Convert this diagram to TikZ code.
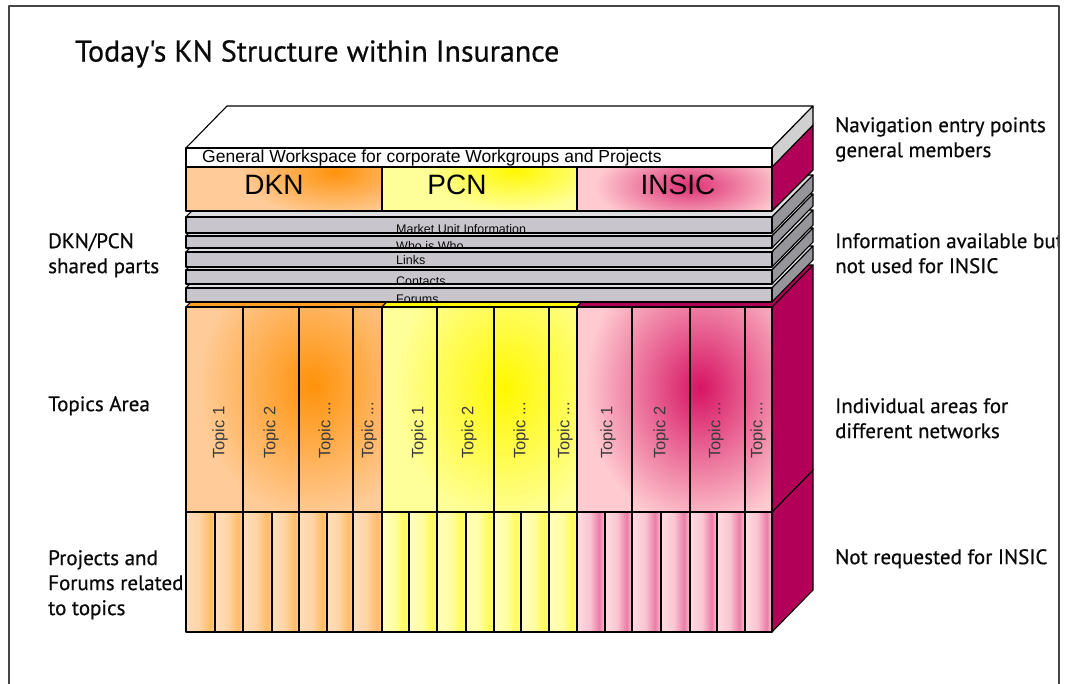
\documentclass[tikz,border=0pt]{standalone}
\usepackage{fontspec}
\setmainfont{PT Sans}[FakeBold=0.5]
\newfontfamily\notefont{PT Sans}[AutoFakeBold=0.6]
\newfontfamily\arialfont{Liberation Sans}
\usetikzlibrary{fadings}

\definecolor{dknlight}{RGB}{255,204,153}
\definecolor{dknsat}{RGB}{255,146,10}
\definecolor{pcnlight}{RGB}{255,255,153}
\definecolor{pcnsat}{RGB}{255,248,0}
\definecolor{insiclight}{RGB}{255,202,208}
\definecolor{insicsat}{RGB}{215,20,100}
\definecolor{wine}{RGB}{178,0,88}
\definecolor{barfront}{RGB}{200,198,204}
\definecolor{barside}{RGB}{150,150,154}
\definecolor{bartop}{RGB}{222,222,225}
\definecolor{slabside}{RGB}{208,208,208}
\definecolor{framegrey}{RGB}{70,70,70}
\definecolor{labelgrey}{RGB}{10,10,10}

% narrow project cells: light on the left, a saturated band near the right edge
\pgfdeclarehorizontalshading{dknstrip}{100bp}{%
  color(0bp)=(dknlight); color(25bp)=(dknlight); color(48bp)=(dknlight!75!dknsat);
  color(67bp)=(dknsat!90!dknlight); color(75bp)=(dknlight!65!dknsat); color(100bp)=(dknlight!65!dknsat)}
\pgfdeclarehorizontalshading{pcnstrip}{100bp}{%
  color(0bp)=(pcnlight); color(25bp)=(pcnlight); color(48bp)=(pcnlight!75!pcnsat);
  color(67bp)=(pcnsat); color(75bp)=(pcnlight!60!pcnsat); color(100bp)=(pcnlight!60!pcnsat)}
\pgfdeclarehorizontalshading{insicstrip}{100bp}{%
  color(0bp)=(insiclight); color(25bp)=(insiclight); color(48bp)=(insiclight!80!insicsat);
  color(65bp)=(insicsat!80!insiclight); color(75bp)=(insiclight!80!insicsat); color(100bp)=(insiclight!80!insicsat)}

% lighter towards the top and bottom of the project cells
\tikzfading[name=edgefade, top color=transparent!65, middle color=transparent!100,
            bottom color=transparent!65]

\tikzset{
  outline/.style={draw=black, line width=1.1pt},
  wineface/.style={outline, fill=wine},
  barbody/.style={outline, fill=barfront},
  bartopface/.style={outline, fill=bartop},
  barsideface/.style={outline, fill=barside},
  sidelabel/.style={anchor=north west, align=left, inner sep=0pt, text=labelgrey,
    font=\notefont\bfseries\fontsize{21}{25}\selectfont},
  titlelabel/.style={anchor=north west, inner sep=0pt, text=labelgrey,
    font=\notefont\bfseries\fontsize{30}{32}\selectfont},
  topiclabel/.style={rotate=90, anchor=west, inner sep=0pt, text=labelgrey!80,
    font=\arialfont\fontsize{16.5}{16.5}\selectfont},
  barlabel/.style={anchor=base west, inner sep=0pt, text=labelgrey,
    font=\arialfont\fontsize{12.5}{12.5}\selectfont},
  headlabel/.style={inner sep=0pt, text=black, font=\arialfont\fontsize{28}{28}\selectfont},
}

\begin{document}
\begin{tikzpicture}[x=1pt, y=-1pt, line join=round]
\useasboundingbox (0,0) rectangle (1071,684);
\fill[white] (0,0) rectangle (1071,684);

% page frame (open at the bottom)
\draw[framegrey, line width=1.3pt] (9,684) -- (9,6) -- (1059,6) -- (1059,684);

% ---------- bottom layer: projects and forums ----------
\path[wineface] (772,512) -- (813,470) -- (813,590) -- (772,632) -- cycle;
\foreach \xa/\xb in {186/215,215/243,243/272,272/299,299/327,327/353,353/382}
  \shade[shading=dknstrip] (\xa,512) rectangle (\xb,632);
\foreach \xa/\xb in {382/409,409/437,437/466,466/494,494/521,521/549,549/577}
  \shade[shading=pcnstrip] (\xa,512) rectangle (\xb,632);
\foreach \xa/\xb in {577/605,605/632,632/661,661/690,690/717,717/745,745/772}
  \shade[shading=insicstrip] (\xa,512) rectangle (\xb,632);
\fill[white, path fading=edgefade] (186,512) rectangle (772,632);
\foreach \xa/\xb in {186/215,215/243,243/272,272/299,299/327,327/353,353/382,
                     382/409,409/437,437/466,466/494,494/521,521/549,549/577,
                     577/605,605/632,632/661,661/690,690/717,717/745,745/772}
  \draw[outline] (\xa,512) rectangle (\xb,632);

% ---------- topics area ----------
\path[wineface] (772,307) -- (813,265) -- (813,470) -- (772,512) -- cycle;
\path[outline, fill=dknsat!80!dknlight] (186,307) -- (227,265) -- (423,265) -- (382,307) -- cycle;
\path[outline, fill=pcnsat] (382,307) -- (423,265) -- (618,265) -- (577,307) -- cycle;
\path[outline, fill=wine] (577,307) -- (618,265) -- (813,265) -- (772,307) -- cycle;

\begin{scope}
  \clip (186,307) rectangle (382,512);
  \fill[dknlight] (186,307) rectangle (382,512);
  \shade[inner color=dknsat, outer color=dknlight] (312,385) ellipse (115 and 135);
\end{scope}
\begin{scope}
  \clip (382,307) rectangle (577,512);
  \fill[pcnlight] (382,307) rectangle (577,512);
  \shade[inner color=pcnsat, outer color=pcnlight] (505,388) ellipse (110 and 135);
\end{scope}
\begin{scope}
  \clip (577,307) rectangle (772,512);
  \fill[insiclight] (577,307) rectangle (772,512);
  \shade[inner color=insicsat, outer color=insiclight] (700,388) ellipse (115 and 140);
\end{scope}
\foreach \xa/\xb in {186/243,243/299,299/353,353/382,382/437,437/494,494/549,549/577,
                     577/632,632/690,690/745,745/772}
  \draw[outline] (\xa,307) rectangle (\xb,512);

\node[topiclabel] (dkn1) at (220,459) {Topic 1};
\node[topiclabel] (dkn2) at (271,459) {Topic 2};
\node[topiclabel] (dkn3) at (326,459) {Topic ...};
\node[topiclabel] (dkn4) at (369,459) {Topic ...};
\node[topiclabel] (pcn1) at (419,459) {Topic 1};
\node[topiclabel] (pcn2) at (469,459) {Topic 2};
\node[topiclabel] (pcn3) at (521,459) {Topic ...};
\node[topiclabel] (pcn4) at (565,459) {Topic ...};
\node[topiclabel] (ins1) at (608,459) {Topic 1};
\node[topiclabel] (ins2) at (661,459) {Topic 2};
\node[topiclabel] (ins3) at (716,459) {Topic ...};
\node[topiclabel] (ins4) at (758,459) {Topic ...};

% ---------- shared grey layers, lowest first ----------
\foreach \t/\b/\lab/\base/\nm in {288/302/Forums/304/forums,
                                  270/284/Contacts/286/contacts,
                                  252/267/Links/265/links,
                                  236/248/Who is Who/251/whoiswho,
                                  217/233/Market Unit Information/234/market}{
  \path[bartopface] (186,\t) -- (227,\t-42) -- (813,\t-42) -- (772,\t) -- cycle;
  \path[barsideface] (772,\t) -- (813,\t-42) -- (813,\b-42) -- (772,\b) -- cycle;
  \path[barbody] (186,\t) rectangle (772,\b);
  \begin{scope}
    \clip (187,\t) rectangle (771,\b);
    \node[barlabel] (\nm) at (396,\base) {\lab};
  \end{scope}
}

% ---------- network row ----------
\path[wineface] (772,167) -- (813,125) -- (813,170) -- (772,211) -- cycle;
\begin{scope}
  \clip (186,167) rectangle (382,211);
  \fill[dknlight] (186,167) rectangle (382,211);
  \shade[inner color=dknsat, outer color=dknlight] (335,172) ellipse (95 and 45);
\end{scope}
\begin{scope}
  \clip (382,167) rectangle (577,211);
  \fill[pcnlight] (382,167) rectangle (577,211);
  \shade[inner color=pcnsat, outer color=pcnlight] (515,170) ellipse (90 and 40);
\end{scope}
\begin{scope}
  \clip (577,167) rectangle (772,211);
  \fill[insiclight] (577,167) rectangle (772,211);
  \shade[inner color=insicsat!85!insiclight, outer color=insiclight] (690,186) ellipse (95 and 40);
\end{scope}
\draw[outline] (186,167) rectangle (382,211);
\draw[outline] (382,167) rectangle (577,211);
\draw[outline] (577,167) rectangle (772,211);
\node[headlabel] (dkn) at (274,185) {DKN};
\node[headlabel] (pcn) at (457,185) {PCN};
\node[headlabel] (insic) at (678,185) {INSIC};

% ---------- general workspace slab ----------
\path[outline, fill=white] (186,148) -- (227,106) -- (813,106) -- (772,148) -- cycle;
\path[outline, fill=slabside] (772,148) -- (813,106) -- (813,125) -- (772,167) -- cycle;
\path[outline, fill=white] (186,148) rectangle (772,167);
\node[anchor=west, inner sep=0pt, font=\arialfont\fontsize{17.5}{17.5}\selectfont]
  (workspace) at (202,158) {General Workspace for corporate Workgroups and Projects};

% ---------- title and side notes ----------
\node[titlelabel] (title) at (75,40) {Today's KN Structure within Insurance};

\node[sidelabel] (shared) at (48,233) {DKN/PCN\\shared parts};
\node[sidelabel] (topicsarea) at (48,396) {Topics Area};
\node[sidelabel] (projects) at (48,550) {Projects and\\Forums related\\to topics};

% notes on the right stop at the page frame
\begin{scope}
  \clip (820,90) rectangle (1058,620);
  \node[sidelabel] (navigation) at (835,117) {Navigation entry points\\general members};
  \node[sidelabel] (available) at (835,233) {Information available but\\not used for INSIC};
  \node[sidelabel] (individual) at (835,398) {Individual areas for\\different networks};
  \node[sidelabel] (notrequested) at (835,549) {Not requested for INSIC};
\end{scope}
\end{tikzpicture}
\end{document}
